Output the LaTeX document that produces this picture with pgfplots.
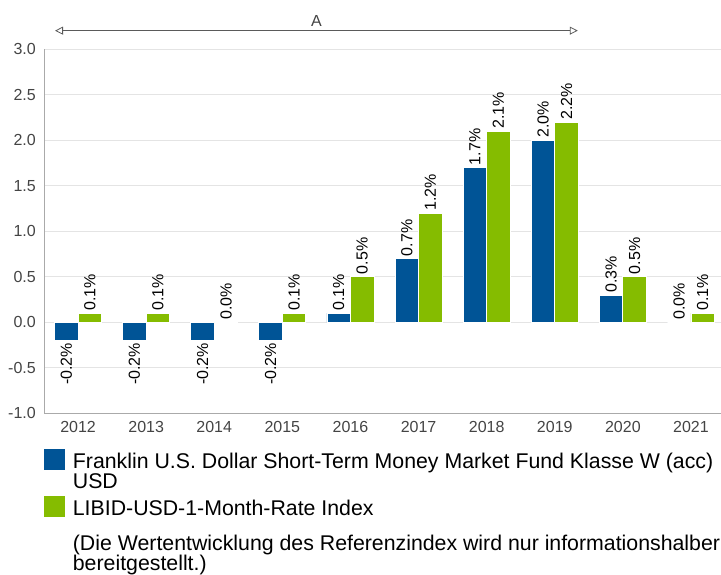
\documentclass[border=0pt]{standalone}
\usepackage{pgfplots}
\pgfplotsset{compat=1.18}
\usepackage{fontspec}
\setmainfont{Liberation Sans}
\usetikzlibrary{arrows.meta}
\definecolor{fblue}{RGB}{0,84,150}
\definecolor{fgreen}{RGB}{133,188,0}
\definecolor{tickgray}{RGB}{68,68,68}
\definecolor{gridgray}{RGB}{228,228,228}
\definecolor{axisgray}{RGB}{170,170,170}
\definecolor{arrowgray}{RGB}{90,90,90}
\begin{document}
\begin{tikzpicture}
\useasboundingbox (0pt,0pt) rectangle (721pt,574pt);
\begin{axis}[
  at={(44pt,160.7pt)}, anchor=south west,
  scale only axis, width=677pt, height=364pt,
  xmin=-0.5, xmax=9.441, ymin=-1, ymax=3,
  clip=false,
  axis x line*=bottom, axis y line*=left,
  axis line style={draw=axisgray, line width=1pt},
  ytick={-1,-0.5,0,0.5,1,1.5,2,2.5,3},
  xtick={0,1,2,3,4,5,6,7,8,9},
  xticklabels={2012,2013,2014,2015,2016,2017,2018,2019,2020,2021},
  major tick length=0pt,
  ymajorgrids, grid style={draw=gridgray, line width=1pt},
  /pgf/number format/assume math mode=true,
  yticklabel style={/pgf/number format/.cd, fixed, fixed zerofill, precision=1, /tikz/.cd,
     font=\fontsize{16}{19}\selectfont, text=tickgray, inner sep=0pt, anchor=east, xshift=-8pt},
  xticklabel style={font=\fontsize{16}{19}\selectfont, text=tickgray, inner sep=0pt, anchor=north, yshift=-7.4pt},
  ybar, bar width=23.5pt,
  point meta=explicit symbolic,
  nodes near coords,
  every node near coord/.append style={rotate=90, anchor=west, inner sep=2.2pt,
     font=\fontsize{16}{19}\selectfont, text=black},
]
\addplot[fill=fblue, draw=white, line width=0.8pt, bar shift=-11.75pt]
  coordinates {(4,0.1)[0.1\%] (5,0.7)[0.7\%] (6,1.7)[1.7\%] (7,2.0)[2.0\%] (8,0.3)[0.3\%] (9,0.0)[0.0\%]};
\addplot[fill=fblue, draw=white, line width=0.8pt, bar shift=-11.75pt,
  every node near coord/.append style={anchor=east}]
  coordinates {(0,-0.2)[-0.2\%] (1,-0.2)[-0.2\%] (2,-0.2)[-0.2\%] (3,-0.2)[-0.2\%]};
\addplot[fill=fgreen, draw=white, line width=0.8pt, bar shift=11.75pt]
  coordinates {(0,0.1)[0.1\%] (1,0.1)[0.1\%] (2,0.0)[0.0\%] (3,0.1)[0.1\%] (4,0.5)[0.5\%]
               (5,1.2)[1.2\%] (6,2.1)[2.1\%] (7,2.2)[2.2\%] (8,0.5)[0.5\%] (9,0.1)[0.1\%]};
\draw[{Triangle[open,length=8pt,width=8pt]}-{Triangle[open,length=8pt,width=8pt]}, draw=arrowgray, line width=0.8pt]
  (axis cs:-0.338,3.205) -- (axis cs:7.338,3.205);
\node[font=\fontsize{16}{19}\selectfont, text=tickgray] at (axis cs:3.5,3.315) {A};
\end{axis}
% legend
\fill[fblue] (44pt,104pt) rectangle (65pt,125pt);
\node[anchor=base west, inner sep=0pt, font=\fontsize{21.3}{19.3}\selectfont] at (72.7pt,105.7pt)
  {\begin{tabular}[t]{@{}l@{}}Franklin U.S. Dollar Short-Term Money Market Fund Klasse W (acc)\\USD\end{tabular}};
\fill[fgreen] (44pt,57.3pt) rectangle (65pt,78.3pt);
\node[anchor=base west, inner sep=0pt, font=\fontsize{21.3}{19.3}\selectfont] at (72.7pt,59pt)
  {LIBID-USD-1-Month-Rate Index};
\node[anchor=base west, inner sep=0pt, font=\fontsize{21.3}{18.3}\selectfont] at (72.7pt,24pt)
  {\begin{tabular}[t]{@{}l@{}}(Die Wertentwicklung des Referenzindex wird nur informationshalber\\bereitgestellt.)\end{tabular}};
\end{tikzpicture}
\end{document}
